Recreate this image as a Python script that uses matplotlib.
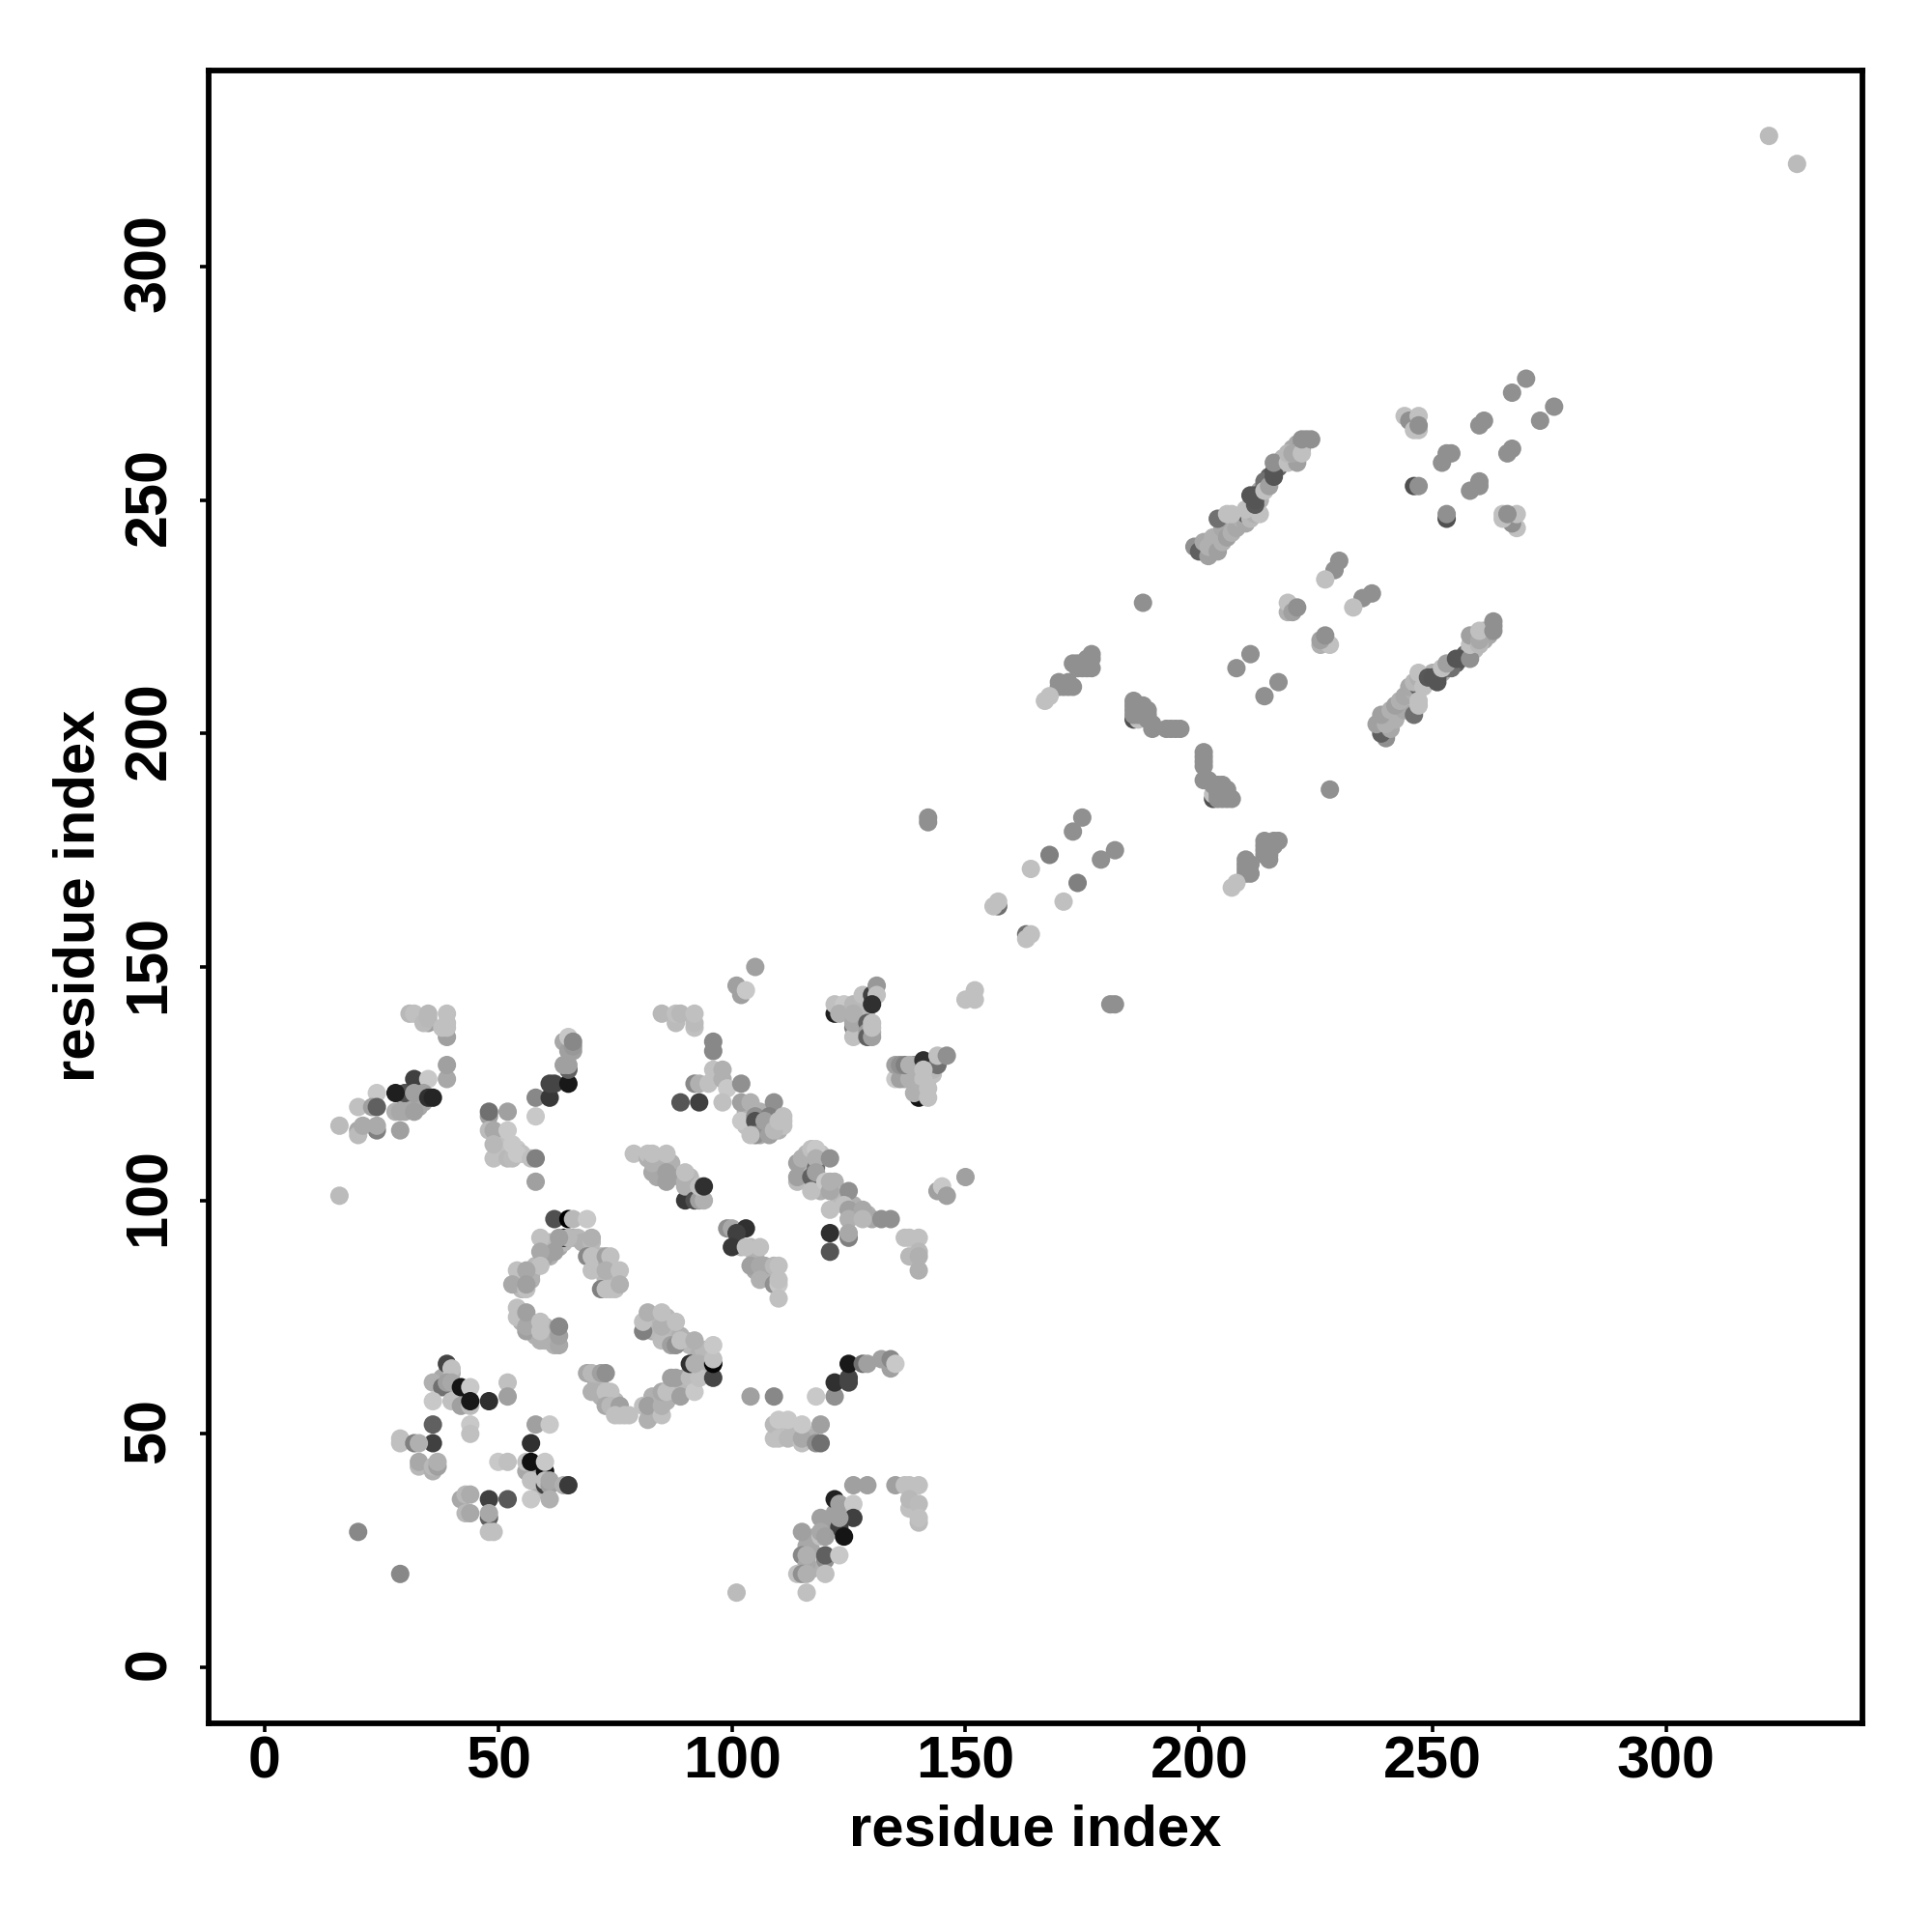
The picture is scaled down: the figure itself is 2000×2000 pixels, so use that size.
import numpy as np
import matplotlib
matplotlib.use("Agg")
import matplotlib.pyplot as plt
from matplotlib.transforms import ScaledTranslation

# each contact: (residue x, residue y, grey level)
left_band = [(16,116,0xbb),(16,101,0xbb),(20,120,0xc0),(20,115,0xa8),(20,114,0xbb),(24,123,0xc8),(23,120,0xa0),(24,120,0x60),
 (24,115,0x80),(24,116,0xaa),(21,116,0xaa),(30,123,0x50),(28,123,0x1f),(28,119,0xb0),(29,119,0xa8),(29,115,0xa0),(32,126,0x40),
 (32,123,0xa0),(32,119,0xa0),(35,126,0xc8),(34,123,0xa0),(35,122,0x30),(36,122,0x25),(39,126,0xa8),(39,129,0xa0),
 (31,140,0xb8),(32,140,0xc0),(35,138,0xa0),(34,138,0xbb),(35,139,0xb8),(35,140,0xb8),(39,135,0xa0),(38,137,0xc0),(39,137,0xc0),(39,138,0xc0),(39,140,0xc0),
 (48,118,0xa0),(48,119,0x70),(52,119,0xa0),(48,115,0xbb),(49,115,0xa8),(52,115,0xc8),(49,109,0xc0),(49,112,0xb8),(52,109,0xb8),(53,109,0xbb),
 (53,112,0xc8),(54,110,0xc8),(57,109,0xc0),(58,109,0x80),(58,104,0xa0),(58,118,0xc8),(58,122,0x88),(61,122,0x38),
 (61,125,0x45),(62,125,0x45),(65,125,0x18),(65,128,0x60),(64,129,0xa0),(65,129,0xa0),(64,134,0xa8),(65,132,0xa0),(65,135,0xc8),(66,132,0xa0),(66,133,0x98),(66,134,0x88)]

arch = [(62,96,0x50),(65,96,0x00),(66,96,0xb8),(69,96,0xc8),(64,92,0x20),(65,92,0xb8),(63,92,0xa0),(59,92,0xc0),(70,92,0xb0),
 (62,89,0xa0),(59,89,0xa8),(59,86,0xc0),(54,85,0xc0),(56,85,0xa8),(53,82,0xa8),(56,81,0xc0),(56,82,0xa0),(69,88,0x88),(70,88,0xc0),
 (73,88,0xa0),(74,88,0xc0),(70,85,0xc0),(73,85,0xb0),(76,85,0xc0),(72,81,0x80),(73,81,0xc0),(74,81,0xc0),(75,81,0xc0),(76,82,0xb0),
 (54,77,0xc0),(54,75,0xc0),(56,72,0xa0),(56,73,0xa8),(56,76,0xa0),(59,70,0xb0),(59,72,0xc0),(59,74,0xc0),(62,69,0xb0),(63,69,0xa8),(63,71,0xa0),(63,73,0x88),
 (81,72,0x80),(81,74,0xc0),(82,76,0xb0),(85,70,0xbb),(85,73,0xb0),(85,76,0xc0),(87,69,0xa0),(88,74,0xc0),
 (69,63,0xa8),(70,63,0xb8),(72,63,0xa0),(73,63,0x90),(70,59,0xb0),(73,59,0xc0),(74,59,0xc0),(73,56,0xa8),(74,56,0xb8),(76,56,0xa0),(75,54,0xc0),(77,54,0xc0)]

lower_left = [(39,65,0x45),(40,64,0xc0),(36,61,0xb0),(38,60,0x70),(39,61,0xa0),(40,61,0xa8),(36,57,0xc8),(40,57,0xc0),(42,57,0xc0),(42,56,0xa0),
 (42,60,0x15),(44,60,0xc8),(44,56,0xbb),(44,57,0x18),(48,57,0x30),(52,61,0xc0),(52,58,0xa0),(44,52,0xc8),(44,50,0xc0),
 (36,52,0x60),(36,48,0x40),(29,49,0xc0),(29,48,0xc0),(32,48,0x80),(33,48,0xb0),(33,43,0xb8),(33,44,0xa8),(36,42,0xb0),(36,43,0xb8),(37,43,0xa0),(37,44,0xb0),
 (58,52,0xa0),(61,52,0xc8),(57,48,0x30),(50,44,0xc8),(52,44,0xc0),(56,42,0xa8),(56,44,0xc0),(57,40,0xc0),(57,44,0x10),(60,42,0x10),(60,44,0xc8),
 (60,39,0x40),(60,40,0xc0),(61,39,0xa0),(61,40,0xa8),(64,39,0xb0),(65,39,0x3a),(57,36,0xc8),(61,36,0xb0),
 (42,36,0xa8),(43,37,0xb8),(44,37,0xac),(48,36,0x40),(52,36,0x58),(43,33,0xb8),(44,33,0xa8),(48,32,0x60),(48,33,0xa8),(48,29,0xc0),(49,29,0xc0),
 (20,29,0x88),(29,20,0x88)]

middle = [(101,146,0xa0),(102,144,0xa0),(103,145,0xc8),(105,150,0xa0),(85,140,0xb8),(88,138,0xbb),(88,140,0xc0),(89,140,0xb8),(92,137,0xc0),(92,138,0xbb),(92,140,0xc0),
 (96,134,0x88),(96,132,0x88),(96,128,0xc0),(98,128,0xb0),(92,125,0x88),(93,125,0xb0),(95,125,0xc0),(98,126,0xb0),(99,124,0xc8),(98,121,0xc0),(89,121,0x55),(93,121,0x40),
 (102,125,0x90),(102,121,0xa0),(104,121,0xb0),(102,117,0xc8),(105,118,0x90),(105,117,0x50),(105,114,0x90),(104,114,0xc0),(109,121,0x90),(108,118,0x80),(107,117,0xa0),
 (108,114,0xa0),(109,115,0xb8),(110,117,0xc0),(111,117,0xc0),(111,118,0xc0),
 (122,140,0x20),(122,142,0xc0),(124,142,0xc8),(123,140,0xb0),(126,142,0xb8),(128,144,0xc0),(130,144,0x40),(131,146,0x98),(131,144,0xc0),(130,142,0x30),
 (126,137,0x80),(126,135,0xc0),(126,138,0xa8),(126,140,0xb0),(129,138,0x60),(129,136,0xa0),(129,135,0x60),(130,135,0xa0),(130,137,0xc0),(130,138,0xc0),
 (150,143,0xc0),(152,145,0xc0),(152,143,0xc0),
 (135,126,0xc8),(136,126,0xa0),(138,126,0xb0),(141,126,0xc0),(135,129,0xa0),(136,129,0x90),(137,129,0x80),(138,129,0xb0),(141,130,0x30),(144,129,0x70),(144,131,0xc0),(146,131,0x90),
 (141,128,0xc0),(140,122,0x15),(139,123,0xb0),(142,122,0xc0),(142,124,0xc0),
 (79,110,0xc0),(82,109,0xb0),(82,110,0xc0),(83,106,0xa8),(83,108,0xb0),(83,110,0xc0),(86,104,0xa0),(86,106,0xa0),(86,110,0xc0),(90,100,0x38),(90,103,0xb0),(90,104,0xb0),(90,106,0xc0),
 (92,100,0x50),(93,100,0xa0),(94,100,0xb0),(93,103,0xc0),(94,103,0x30),
 (114,104,0xbb),(114,105,0xa0),(114,108,0xa0),(115,109,0xb0),(117,111,0xc0),(118,111,0xc8),(118,107,0x70),(118,109,0xb0),(117,105,0x60),(118,106,0xa0),(117,102,0xc0),(121,109,0x90),
 (120,104,0xc8),(121,102,0xa8),(121,104,0xb0),(125,102,0x90),(121,98,0xc0),(124,99,0xc0),(125,98,0xa0),(125,96,0xb0),(128,98,0xa8),(128,96,0xb8),(132,96,0x90),(134,96,0x90),
 (121,93,0x30),(121,89,0x55),(125,92,0x80),(125,93,0xa8),(137,92,0xc0),(138,92,0xc0),(140,92,0xc0),(138,88,0xb8),(140,89,0xb8),(140,88,0xb0),(140,85,0xb0),
 (144,102,0xa0),(145,103,0xc8),(146,101,0xa0),(150,105,0xa0),
 (99,94,0x90),(100,94,0xa8),(103,94,0x30),(101,93,0x40),(100,90,0x38),(103,90,0xc0),(106,90,0xc0),(104,86,0xa0),(106,86,0xa8),(109,86,0xb8),(110,86,0xc0),(106,83,0xb0),(109,82,0x90),(110,82,0xc8),(110,83,0xc0),(110,79,0xc0)]

lower_middle = [(81,56,0xc0),(82,53,0xb0),(82,56,0xa0),(78,54,0xc0),(85,54,0xc0),(85,56,0xb0),(85,58,0xb0),(85,59,0xa8),(86,59,0xc0),(87,62,0xa0),(88,62,0xa0),(89,58,0xa0),(91,62,0xbb),(92,59,0xc8),(93,62,0xc0),(96,62,0x45),
 (88,69,0x90),(89,70,0xc0),(91,65,0x30),(92,65,0xb0),(92,70,0xb0),(96,65,0x05),(96,66,0xc0),(96,69,0xc8),
 (104,58,0xa0),(109,58,0x88),(118,58,0xc8),(122,58,0x90),(122,61,0x30),(125,62,0x45),(125,61,0x45),(125,65,0x18),(128,65,0x70),(129,65,0xa0),(132,66,0xa0),(134,64,0xa0),(134,66,0x88),(135,65,0xc8),
 (109,49,0xc0),(109,52,0xb8),(110,49,0xc0),(110,53,0xc8),(112,49,0xb8),(112,53,0xc8),(115,48,0xc0),(115,49,0xa8),(115,52,0xc8),(118,48,0x90),(119,48,0x70),(119,52,0xa0),
 (126,39,0xa0),(129,39,0xa0),(135,39,0xa0),(137,39,0xc0),(138,39,0xc0),(140,39,0xc0),(138,34,0xc0),(138,36,0xb8),(140,35,0xbb),(140,31,0xbb),(140,32,0xc0),
 (122,36,0x20),(123,35,0xa0),(126,35,0xc8),(126,32,0x40),(119,32,0xa0),(123,30,0x40),(123,32,0xa0),(124,28,0x15),(115,29,0xa0),(119,28,0xc0),(119,29,0xa8),(120,28,0xa0),
 (115,24,0x88),(116,22,0xa8),(116,24,0xb0),(120,23,0x90),(120,24,0x60),(123,24,0xc8),(114,20,0xc0),(115,20,0x90),(116,20,0xb0),(120,20,0xc0),(116,16,0xc0),(101,16,0xbb)]

# contacts mostly hidden under others in the dense clumps, estimated from the clump outlines
hidden_points = [(60,90,0xa8),(61,88,0xb0),(60,88,0xa0),(61,91,0xb8),(63,90,0xa8),(64,91,0xb8),(66,92,0xb0),(67,92,0xb8),(68,91,0xb0),
 (70,91,0xb8),(72,88,0xb8),(71,87,0xb8),(72,85,0xb0),(74,84,0xb8),(75,83,0xb8),(73,83,0xb8),(74,82,0xb8),(55,84,0xb8),(57,84,0xb0),(58,86,0xb8),(57,83,0xb0),(55,81,0xb8),
 (55,76,0xb8),(55,74,0xb0),(57,74,0xb8),(58,73,0xb8),(60,73,0xb8),(61,72,0xb0),(60,70,0xb0),(61,70,0xb0),(62,71,0xb0),(58,71,0xb0),(57,72,0xb0),
 (83,74,0xb8),(84,75,0xb8),(83,72,0xb0),(84,72,0xb8),(86,75,0xb8),(86,72,0xb8),(87,73,0xb8),(89,71,0xb0),(90,70,0xb0),(91,69,0xb8),(93,67,0xb0),(94,68,0xb8),(95,66,0xb8),(93,65,0xb0),(95,64,0xb0),
 (90,62,0xa8),(89,60,0xb8),(87,60,0xb8),(86,57,0xb0),(84,57,0xb8),(83,58,0xb0),(84,55,0xb8),(83,54,0xb8),(71,61,0xb0),(72,60,0xb8),(75,57,0xb8),(74,57,0xb8),(71,59,0xb0),(72,58,0xb0),(76,54,0xc0),
 (103,119,0xb0),(103,116,0xc0),(106,116,0xa8),(106,119,0xb0),(107,115,0xb8),(110,115,0xb0),(111,116,0xc0),(104,118,0xb0),(109,116,0xb8),(108,116,0xb0),(106,114,0xa8),(109,118,0xb0),
 (137,126,0xb0),(138,127,0xb8),(139,127,0xb8),(140,124,0xb0),(141,123,0xb8),(140,125,0xb0),(141,125,0xb8),(142,126,0xb8),(143,127,0xc0),(143,128,0xb8),(142,128,0xb8),(139,129,0x90),(140,129,0x90),
 (127,141,0xb8),(128,142,0xb8),(127,140,0xb0),(128,140,0xb0),(125,141,0xb8),(127,136,0xa8),(128,137,0xb0),(130,136,0xb0),(129,141,0xb8),
 (115,106,0xa8),(116,107,0xb0),(116,110,0xb8),(119,110,0xc0),(119,104,0xb0),(119,102,0xb0),(122,104,0xb0),(122,102,0xb0),(123,100,0xb0),(123,101,0xb8),(126,97,0xa8),(127,97,0xb0),(129,97,0xb0),(130,96,0xa8),(126,99,0xb0),
 (84,107,0xa8),(84,105,0xa8),(85,105,0xa8),(87,108,0xb0),(87,105,0xa0),(91,102,0xb0),(91,105,0xb8),(85,107,0xb0),
 (30,120,0xa8),(31,120,0xa8),(33,122,0xa0),(34,121,0xa8),(33,120,0xa8),(30,119,0xa8),
 (50,114,0xb8),(50,111,0xb8),(51,110,0xb8),(50,112,0xb8),(51,112,0xc0),(53,110,0xc0),(54,111,0xc8),(55,110,0xc0),
 (39,60,0xa8),(40,60,0xb0),(41,59,0xb8),(41,57,0xb8),(43,57,0xc0),(43,59,0xb8),(38,62,0xa8),(39,63,0xa8),(40,63,0xb0),
 (58,43,0xb0),(58,41,0xb0),(59,42,0xb0),(58,40,0xb8),(59,40,0xb8),(59,38,0xb8),(59,39,0xb0),
 (110,51,0xc0),(111,50,0xb8),(111,52,0xc0),(113,50,0xb8),(114,51,0xb8),(116,50,0xb8),(117,49,0xb0),
 (101,91,0xb0),(102,90,0xb8),(104,90,0xb8),(105,88,0xb0),(107,85,0xa8),(105,85,0xa8),(108,84,0xb0),(107,86,0xa8),
 (116,26,0xa8),(117,25,0xa8),(116,23,0xa8),(117,21,0xb0),(118,28,0xa8),(121,30,0xa0),(122,33,0xa0),(122,31,0xa0),(124,33,0xa0),(125,34,0xb0)]

# the upper part of the map is symmetric: each pair appears at (i, j) and at (j, i)
symmetric_pairs = [(201,239,0xb0),(203,240,0xb0),(204,241,0xa8),(205,242,0xb0),(207,244,0xb0),(209,245,0xb0),(211,247,0xb0),(212,248,0xb8),(213,250,0xb0),(213,252,0xa8),
 (214,253,0x70),(215,254,0xa8),(215,255,0x60),(217,257,0x60),(218,258,0xb0),(218,259,0xb8),(220,259,0xb0),(221,260,0xb8),(220,261,0xa8),(221,262,0xa8),(222,262,0x98),(223,263,0x90),(222,261,0xb0),
 (199,240,0x90),(200,239,0x60),(201,241,0xa8),(202,238,0xa0),(202,240,0xb0),(203,242,0xb0),(204,239,0xa0),(205,241,0xb0),(206,243,0xb0),
 (205,244,0xa8),(206,242,0xa0),(207,243,0xb0),(208,245,0xb8),(208,244,0xa8),(204,246,0x70),(209,246,0xb0),(210,245,0xa8),(210,247,0x60),(211,246,0xb8),(212,247,0xb0),
 (206,247,0xc0),(207,247,0xc0),(213,247,0xc0),(210,248,0xc0),(212,249,0x58),(211,251,0x55),(212,251,0x55),(212,250,0x55),(214,254,0x70),(214,252,0xc0),(215,253,0xa0),
 (216,255,0x55),(216,256,0x55),(216,258,0x90),(219,258,0xc0),(221,258,0xa0),(219,260,0xb8),(220,260,0xa8),(222,260,0xc0),(222,263,0x90),(224,263,0x90),
 (244,268,0xc0),(245,267,0x90),(247,268,0xc0),(246,265,0xc0),(247,265,0xc0),(247,266,0x90),(246,253,0x50),(247,253,0x90),(252,258,0x90),(253,260,0x90),(254,260,0x90),
 (260,266,0x90),(261,267,0x90),(267,273,0x90),(270,276,0x90),
 (230,237,0x90),(229,235,0x90),(227,233,0xc0),(219,226,0xb0),(219,228,0xc0),(220,226,0xa0),(221,227,0x90),
 (211,217,0x90),(208,214,0x90),(188,228,0x90),
 (172,211,0x90),(172,210,0x90),(174,214,0x90),(175,215,0x90),(176,216,0x90),(174,215,0x90),(175,214,0x90),(176,215,0x90),(177,216,0x90),(170,211,0x90),
 (177,217,0x90),(177,214,0x90),(173,215,0x90),(176,214,0x90),(170,210,0x90),(171,210,0x90),(173,210,0x90),(167,207,0xc0),(168,208,0xc0),
 (186,203,0x50),(187,203,0xc0),(186,204,0x90),(186,205,0x90),(186,206,0x90),(186,207,0x90),(187,204,0x90),(187,205,0x90),(187,206,0x90),(188,204,0x90),(188,205,0x90),
 (188,206,0x90),(189,203,0x90),(189,204,0x90),(189,205,0x90),(190,201,0x90),(190,202,0x90),(193,201,0x90),(194,201,0x90),(195,201,0x90),(196,201,0x90),
 (175,182,0x90),(173,179,0x90),(168,174,0x80),(164,171,0xc0),(157,163,0x70),(156,163,0xc0),(157,164,0xc0),
 (142,181,0x90),(142,182,0x90),(322,328,0xbb)]

direct_points = hidden_points + left_band + arch + lower_left + middle + lower_middle
tick_values = [0, 50, 100, 150, 200, 250, 300]
axis_label = "residue index"

xs = [p[0] for p in direct_points]
ys = [p[1] for p in direct_points]
gs = [p[2] for p in direct_points]
for i, j, g in symmetric_pairs:
    xs += [i, j]
    ys += [j, i]
    gs += [g, g]
colors = np.repeat(np.array(gs)[:, None], 3, axis=1) / 255.0

plt.rcParams['font.family'] = ['Liberation Sans', 'DejaVu Sans']
fig = plt.figure(figsize=(10, 10), dpi=200)
ax = fig.add_axes([216/2000, 1-1784/2000, (1928-216)/2000, (1784-73)/2000])
ax.scatter(xs, ys, c=colors, s=47, linewidths=0, zorder=3)
ax.set_xlim(-12, 342)
ax.set_ylim(-12, 342)
for s in ax.spines.values():
    s.set_linewidth(2.1)
    s.set_zorder(5)
ax.set_xticks(tick_values)
ax.set_yticks(tick_values)
ax.tick_params(axis='x', length=3.2, width=1.3, pad=1.2, labelsize=22)
ax.tick_params(axis='y', length=3.2, width=1.3, pad=8.3, labelsize=22)
lift = ScaledTranslation(0, 3.5/200, fig.dpi_scale_trans)
for t in ax.get_xticklabels():
    t.set_fontweight('bold')
for t in ax.get_yticklabels():
    t.set_fontweight('bold')
    t.set_rotation(90)
    t.set_va('center')
    t.set_transform(t.get_transform() + lift)
fig.text(1072/2000, 1-1895/2000, axis_label, fontsize=21.5, fontweight='bold', ha='center', va='center')
fig.text(82/2000, 1-927/2000, axis_label, fontsize=21.5, fontweight='bold', ha='center', va='center', rotation=90)
fig.savefig("out.png", dpi=200, facecolor='white')
